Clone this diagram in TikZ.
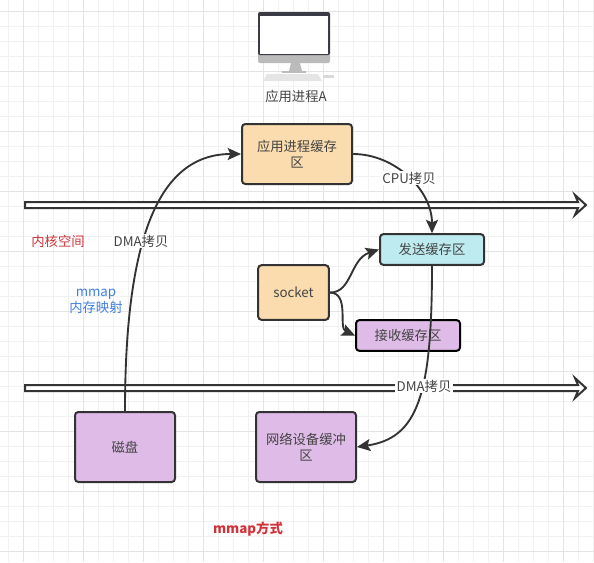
\documentclass[tikz,border=0pt]{standalone}
\usepackage{fontspec}
\setmainfont{Noto Sans CJK SC}
\usetikzlibrary{arrows.meta}
\definecolor{gridminor}{HTML}{F1F1F1}
\definecolor{gridmajor}{HTML}{E4E4E4}
\definecolor{inkdark}{HTML}{333333}
\definecolor{inktext}{HTML}{444444}
\definecolor{boxorange}{HTML}{FADCAE}
\definecolor{boxcyan}{HTML}{BDEBF0}
\definecolor{boxpurple}{HTML}{DFBBE8}
\definecolor{labelred}{HTML}{D0343A}
\definecolor{labelblue}{HTML}{3F7FE0}
\definecolor{bezel}{HTML}{3A3B45}
\definecolor{chin}{HTML}{BBBBBB}
\tikzset{
    bufbox/.style = {draw = inkdark, line width = 1.5pt, rounded corners = 2.5pt, text = inktext, align = center, inner sep = 2pt},
    link/.style = {draw = inkdark, line width = 1.4pt, -{Stealth[length = 10pt, width = 9pt, inset = 2pt]}},
    linklabel/.style = {fill = white, text = inktext, inner sep = 1pt},
    ringarrow/.style = {draw = inkdark, line width = 1.5pt, fill = white, line join = miter}
}
\begin{document}
\begin{tikzpicture}[x = 0.75pt, y = -0.75pt]
    \useasboundingbox (0, 0) rectangle (594, 562);
    \fill[white] (0, 0) rectangle (594, 562);
    % grid
    \foreach \x in {8, 23, ..., 593}{
        \draw[gridminor, line width = 0.75pt] (\x, 0) -- (\x, 562);
    }
    \foreach \y in {11, 26, ..., 551}{
        \draw[gridminor, line width = 0.75pt] (0, \y) -- (594, \y);
    }
    \foreach \x in {23, 83, ..., 563}{
        \draw[gridmajor, line width = 0.75pt] (\x, 0) -- (\x, 562);
    }
    \foreach \y in {11, 71, ..., 551}{
        \draw[gridmajor, line width = 0.75pt] (0, \y) -- (594, \y);
    }
    % monitor
    \fill[chin, rounded corners = 1.5pt] (258, 50) rectangle (330, 63);
    \fill[bezel, rounded corners = 1.5pt] (258, 12) rectangle (330, 55);
    \fill[white] (260, 16) rectangle (328, 54);
    \fill[chin] (291, 63) -- (300, 63) -- (302, 71) -- (289, 71) -- cycle;
    \fill[chin] (282, 71) rectangle (306, 73);
    \fill[black!10] (267, 74) -- (318, 74) -- (322, 81) -- (263, 81) -- cycle;
    \fill[black!15] (323, 75) rectangle (334, 78);
    \node[text = inktext] (procA) at (296, 96) {应用进程A};
    % kernel boundaries
    \foreach \y in {205, 388}{
        \draw[ringarrow] (25, \y-3) -- (578, \y-3) -- (575, \y-10) -- (586, \y) -- (575, \y+10) -- (578, \y+3) -- (25, \y+3) -- cycle;
    }
    % buffers
    \node[bufbox, fill = boxorange, minimum width = 82.5pt, minimum height = 45pt] (appbuf) at (297, 154) {应用进程缓存\\区};
    \node[bufbox, fill = boxcyan, minimum width = 78pt, minimum height = 23pt] (sendbuf) at (432, 249.5) {发送缓存区};
    \node[bufbox, fill = boxorange, minimum width = 53pt, minimum height = 41pt] (socket) at (293.5, 292.5) {socket};
    \node[bufbox, draw = black, fill = boxpurple, minimum width = 78pt, minimum height = 23pt] (recvbuf) at (408, 335.5) {接收缓存区};
    \node[bufbox, fill = boxpurple, minimum width = 75pt, minimum height = 52.5pt] (disk) at (125, 447) {磁盘};
    \node[bufbox, fill = boxpurple, minimum width = 75pt, minimum height = 52.5pt] (netbuf) at (306, 447) {网络设备缓冲\\区};
    % connectors
    \draw[link] (disk.north) .. controls (125, 230) and (162, 154) .. (appbuf.west);
    \draw[link] (appbuf.east) .. controls (395, 154) and (432, 190) .. (sendbuf.north);
    \draw[link] (socket.east) .. controls (352, 293) and (350, 259) .. (sendbuf.west);
    \draw[link] (socket.east) .. controls (350, 293) and (338, 328) .. (recvbuf.west);
    \draw[link] (sendbuf.south) .. controls (432, 395) and (418, 438) .. (netbuf.east);
    % labels
    \node[linklabel] (dmaup) at (141, 241) {DMA拷贝};
    \node[linklabel] (cpucopy) at (409, 178) {CPU拷贝};
    \node[linklabel] (dmadown) at (424, 386) {DMA拷贝};
    \node[text = labelred] (kernel) at (58, 241) {内核空间};
    \node[text = labelblue, align = center, inner sep = 0pt] (mmapnote) at (96, 301) {mmap\\内存映射};
    \node[text = labelred, font = \bfseries] (caption) at (248, 529) {mmap方式};
\end{tikzpicture}
\end{document}
